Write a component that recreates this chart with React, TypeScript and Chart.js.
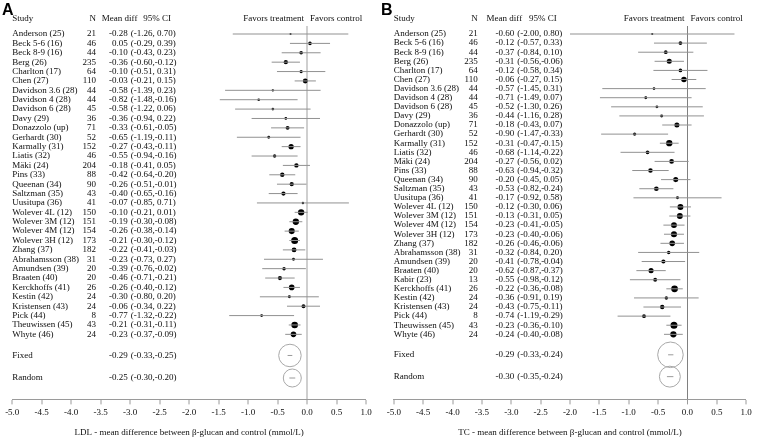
import React, { useEffect, useRef } from "react";
import { Chart, registerables } from "chart.js";
Chart.register(...registerables);

// ---------- Data: Panel A (LDL) ----------
const studiesA = [
  "Anderson (25)", "Beck 5-6 (16)", "Beck 8-9 (16)", "Berg (26)", "Charlton (17)", "Chen (27)",
  "Davidson 3.6 (28)", "Davidson 4 (28)", "Davidson 6 (28)", "Davy (29)", "Donazzolo (up)",
  "Gerhardt (30)", "Karmally (31)", "Liatis (32)", "Mäki (24)", "Pins (33)", "Queenan (34)",
  "Saltzman (35)", "Uusitupa (36)", "Wolever 4L (12)", "Wolever 3M (12)", "Wolever 4M (12)",
  "Wolever 3H (12)", "Zhang (37)", "Abrahamsson (38)", "Amundsen (39)", "Braaten (40)",
  "Kerckhoffs (41)", "Kestin (42)", "Kristensen (43)", "Pick (44)", "Theuwissen (45)", "Whyte (46)",
];
const nA = [21, 46, 44, 235, 64, 110, 44, 44, 45, 36, 71, 52, 152, 46, 204, 88, 90, 43, 41, 150, 151, 154, 173, 182, 31, 20, 20, 26, 24, 24, 8, 43, 24];
const meanA = [-0.28, 0.05, -0.10, -0.36, -0.10, -0.03, -0.58, -0.82, -0.58, -0.36, -0.33, -0.65, -0.27, -0.55, -0.18, -0.42, -0.26, -0.40, -0.07, -0.10, -0.19, -0.26, -0.21, -0.22, -0.23, -0.39, -0.46, -0.26, -0.30, -0.06, -0.77, -0.21, -0.23];
const lowA = [-1.26, -0.29, -0.43, -0.60, -0.51, -0.21, -1.39, -1.48, -1.22, -0.94, -0.61, -1.19, -0.43, -0.94, -0.41, -0.64, -0.51, -0.65, -0.85, -0.21, -0.30, -0.38, -0.30, -0.41, -0.73, -0.76, -0.71, -0.40, -0.80, -0.34, -1.32, -0.31, -0.37];
const highA = [0.70, 0.39, 0.23, -0.12, 0.31, 0.15, 0.23, -0.16, 0.06, 0.22, -0.05, -0.11, -0.11, -0.16, 0.05, -0.20, -0.01, -0.16, 0.71, 0.01, -0.08, -0.14, -0.12, -0.03, 0.27, -0.02, -0.21, -0.12, 0.20, 0.22, -0.22, -0.11, -0.09];
const summaryLabels = ["Fixed", "Random"];
const sumMeanA = [-0.29, -0.25];
const sumLowA = [-0.33, -0.30];
const sumHighA = [-0.25, -0.20];

// ---------- Data: Panel B (TC) ----------
const studiesB = [
  "Anderson (25)", "Beck 5-6 (16)", "Beck 8-9 (16)", "Berg (26)", "Charlton (17)", "Chen (27)",
  "Davidson 3.6 (28)", "Davidson 4 (28)", "Davidson 6 (28)", "Davy (29)", "Donazzolo (up)",
  "Gerhardt (30)", "Karmally (31)", "Liatis (32)", "Mäki (24)", "Pins (33)", "Queenan (34)",
  "Saltzman (35)", "Uusitupa (36)", "Wolever 4L (12)", "Wolever 3M (12)", "Wolever 4M (12)",
  "Wolever 3H (12)", "Zhang (37)", "Abrahamsson (38)", "Amundsen (39)", "Braaten (40)",
  "Kabir (23)", "Kerckhoffs (41)", "Kestin (42)", "Kristensen (43)", "Pick (44)", "Theuwissen (45)", "Whyte (46)",
];
const nB = [21, 46, 44, 235, 64, 110, 44, 44, 45, 36, 71, 52, 152, 46, 204, 88, 90, 43, 41, 150, 151, 154, 173, 182, 31, 20, 20, 13, 26, 24, 24, 8, 43, 24];
const meanB = [-0.60, -0.12, -0.37, -0.31, -0.12, -0.06, -0.57, -0.71, -0.52, -0.44, -0.18, -0.90, -0.31, -0.68, -0.27, -0.63, -0.20, -0.53, -0.17, -0.12, -0.13, -0.23, -0.23, -0.26, -0.32, -0.41, -0.62, -0.55, -0.22, -0.36, -0.43, -0.74, -0.23, -0.24];
const lowB = [-2.00, -0.57, -0.84, -0.56, -0.58, -0.27, -1.45, -1.49, -1.30, -1.16, -0.43, -1.47, -0.47, -1.14, -0.56, -0.94, -0.45, -0.82, -0.92, -0.30, -0.31, -0.41, -0.40, -0.46, -0.84, -0.78, -0.87, -0.98, -0.36, -0.91, -0.75, -1.19, -0.36, -0.40];
const highB = [0.80, 0.33, 0.10, -0.06, 0.34, 0.15, 0.31, 0.07, 0.26, 0.28, 0.07, -0.33, -0.15, -0.22, 0.02, -0.32, 0.05, -0.24, 0.58, 0.06, 0.05, -0.05, -0.06, -0.06, 0.20, -0.04, -0.37, -0.12, -0.08, 0.19, -0.11, -0.29, -0.10, -0.08];
const sumMeanB = [-0.29, -0.30];
const sumLowB = [-0.33, -0.35];
const sumHighB = [-0.24, -0.24];

// ---------- Axis ----------
const xTickValues = [-5.0, -4.5, -4.0, -3.5, -3.0, -2.5, -2.0, -1.5, -1.0, -0.5, 0.0, 0.5, 1.0];
const titleA = "LDL - mean difference between β-glucan and control (mmol/L)";
const titleB = "TC - mean difference between β-glucan and control (mmol/L)";
const headerLabels = ["Study", "N", "Mean diff", "95% CI"];
const favorLabels = ["Favors treatment", "Favors control"];

const SERIF = "'Liberation Serif', 'Times New Roman', serif";
const SANS = "'Liberation Sans', Arial, sans-serif";
const TEXT = "#0d0d0d";

const fmt = (v: number) => v.toFixed(2);
const fmtCI = (lo: number, hi: number) => `(${fmt(lo)},${hi < 0 ? "" : " "}${fmt(hi)})`;

type Panel = {
  letter: string;
  studies: string[];
  n: number[];
  mean: number[];
  lo: number[];
  hi: number[];
  sMean: number[];
  sLo: number[];
  sHi: number[];
  title: string;
  zeroColor: string;
  zeroWidth: number;
  ymin: number;
  ymax: number;
  headerRow: number;
  padLeft: number;
  padRight: number;
  colN: number;
  colMean: number;
  colCI: number;
  colMeanHead: number;
  colCIHead: number;
  rMax: number;
  sumScale: number;
  letterX: number;
};

const FIXED_GAP = 2.25;
const RANDOM_GAP = 4.65;

function buildChart(canvas: HTMLCanvasElement, p: Panel) {
  const rows = p.studies.length;
  const sumRows = [rows - 1 + FIXED_GAP, rows - 1 + RANDOM_GAP];
  const widths = p.lo.map((l, i) => p.hi[i] - l);
  const minW = Math.min(...widths);

  const ciData: any[] = [];
  p.studies.forEach((_, i) => {
    ciData.push({ x: p.lo[i], y: i }, { x: p.hi[i], y: i }, { x: p.hi[i], y: null });
  });
  const ptData = p.mean.map((m, i) => ({ x: m, y: i }));
  const sumCi: any[] = [];
  sumRows.forEach((r, i) => {
    sumCi.push({ x: p.sLo[i], y: r }, { x: p.sHi[i], y: r }, { x: p.sHi[i], y: null });
  });
  const sumPt = p.sMean.map((m, i) => ({ x: m, y: sumRows[i] }));

  const textPlugin = {
    id: "forestText" + p.letter,
    afterDraw(chart: any) {
      const { ctx, scales } = chart;
      const x = scales.x;
      const y = scales.y;
      ctx.save();
      ctx.fillStyle = TEXT;
      ctx.textBaseline = "middle";
      ctx.font = `9px ${SERIF}`;
      const hy = y.getPixelForValue(p.headerRow);
      ctx.textAlign = "left";
      ctx.fillText(headerLabels[0], x.getPixelForValue(-5), hy);
      ctx.textAlign = "right";
      ctx.fillText(headerLabels[1], x.getPixelForValue(p.colN), hy);
      ctx.textAlign = "left";
      ctx.fillText(headerLabels[2], x.getPixelForValue(p.colMeanHead), hy);
      ctx.fillText(headerLabels[3], x.getPixelForValue(p.colCIHead), hy);
      const zx = x.getPixelForValue(0);
      ctx.textAlign = "right";
      ctx.fillText(favorLabels[0], zx - 3, hy);
      ctx.textAlign = "left";
      ctx.fillText(favorLabels[1], zx + 3, hy);

      p.studies.forEach((s, i) => {
        const py = y.getPixelForValue(i);
        ctx.textAlign = "left";
        ctx.fillText(s, x.getPixelForValue(-5), py);
        ctx.textAlign = "right";
        ctx.fillText(String(p.n[i]), x.getPixelForValue(p.colN), py);
        ctx.fillText(fmt(p.mean[i]), x.getPixelForValue(p.colMean), py);
        ctx.textAlign = "left";
        ctx.fillText(fmtCI(p.lo[i], p.hi[i]), x.getPixelForValue(p.colCI), py);
      });
      summaryLabels.forEach((s, i) => {
        const py = y.getPixelForValue(sumRows[i]);
        ctx.textAlign = "left";
        ctx.fillText(s, x.getPixelForValue(-5), py);
        ctx.textAlign = "right";
        ctx.fillText(fmt(p.sMean[i]), x.getPixelForValue(p.colMean), py);
        ctx.textAlign = "left";
        ctx.fillText(fmtCI(p.sLo[i], p.sHi[i]), x.getPixelForValue(p.colCI), py);
      });

      ctx.font = `bold 16px ${SANS}`;
      ctx.textBaseline = "alphabetic";
      ctx.textAlign = "left";
      ctx.fillStyle = "#000";
      ctx.fillText(p.letter, p.letterX, 15);
      ctx.restore();
    },
  };

  return new Chart(canvas, {
    type: "scatter",
    data: {
      datasets: [
        {
          type: "line",
          data: ciData,
          borderColor: "#919191",
          borderWidth: 1,
          pointRadius: 0,
          fill: false,
          spanGaps: false,
        } as any,
        {
          type: "scatter",
          data: ptData,
          pointRadius: (c: any) => Math.max(0.8, p.rMax * Math.sqrt(minW / widths[c.dataIndex])),
          pointHoverRadius: 0,
          backgroundColor: "#000",
          borderWidth: 0,
        },
        {
          type: "line",
          data: sumCi,
          borderColor: "#9a9a9a",
          borderWidth: 1,
          pointRadius: 0,
          fill: false,
          spanGaps: false,
        } as any,
        {
          type: "scatter",
          data: sumPt,
          pointRadius: (c: any) => p.sumScale / (p.sHi[c.dataIndex] - p.sLo[c.dataIndex]),
          pointHoverRadius: 0,
          backgroundColor: "rgba(0,0,0,0)",
          borderColor: "#a8a8a8",
          borderWidth: 1,
        },
      ],
    },
    options: {
      animation: false,
      responsive: false,
      maintainAspectRatio: false,
      events: [],
      layout: { padding: { left: p.padLeft, right: p.padRight, top: 26, bottom: 0 } },
      plugins: { legend: { display: false }, tooltip: { enabled: false } },
      scales: {
        x: {
          type: "linear",
          min: -5,
          max: 1,
          afterBuildTicks: (s: any) => {
            s.ticks = xTickValues.map((v) => ({ value: v }));
          },
          grid: {
            drawOnChartArea: true,
            drawTicks: true,
            color: (c: any) => (c.tick && c.tick.value === 0 ? p.zeroColor : "rgba(0,0,0,0)"),
            lineWidth: (c: any) => (c.tick && c.tick.value === 0 ? p.zeroWidth : 0),
            tickColor: "#9a9a9a",
            tickWidth: 1,
            tickLength: 5,
          },
          border: { display: true, color: "#9a9a9a", width: 1 },
          ticks: {
            callback: (v: any) => Number(v).toFixed(1),
            font: { family: SERIF, size: 9 },
            color: TEXT,
            padding: 3,
            maxRotation: 0,
            autoSkip: false,
          },
          title: {
            display: true,
            text: p.title,
            font: { family: SERIF, size: 9 },
            color: TEXT,
            padding: { top: 6, bottom: 2 },
          },
        },
        y: {
          type: "linear",
          display: false,
          reverse: true,
          min: p.ymin,
          max: p.ymax,
        },
      },
    },
    plugins: [textPlugin],
  } as any);
}

const panelA: Panel = {
  letter: "A",
  studies: studiesA,
  n: nA,
  mean: meanA,
  lo: lowA,
  hi: highA,
  sMean: sumMeanA,
  sLo: sumLowA,
  sHi: sumHighA,
  title: titleA,
  zeroColor: "#cfcfcf",
  zeroWidth: 2,
  ymin: -0.853,
  ymax: 38.93,
  headerRow: -1.6,
  padLeft: 7,
  padRight: 14,
  colN: -3.58,
  colMean: -3.04,
  colCI: -2.99,
  colMeanHead: -3.48,
  colCIHead: -2.78,
  rMax: 3.5,
  sumScale: 0.9,
  letterX: 2,
};

const panelB: Panel = {
  letter: "B",
  studies: studiesB,
  n: nB,
  mean: meanB,
  lo: lowB,
  hi: highB,
  sMean: sumMeanB,
  sLo: sumLowB,
  sHi: sumHighB,
  title: titleB,
  zeroColor: "#808080",
  zeroWidth: 1,
  ymin: -0.88,
  ymax: 40.15,
  headerRow: -1.65,
  padLeft: 13,
  padRight: 7,
  colN: -3.57,
  colMean: -2.95,
  colCI: -2.9,
  colMeanHead: -3.42,
  colCIHead: -2.7,
  rMax: 3.5,
  sumScale: 1.15,
  letterX: 1,
};

function ForestPanel({ panel, left }: { panel: Panel; left: number }) {
  const ref = useRef<HTMLCanvasElement | null>(null);
  useEffect(() => {
    if (!ref.current) return;
    const chart = buildChart(ref.current, panel);
    return () => chart.destroy();
  }, [panel]);
  return (
    <canvas
      ref={ref}
      width={380}
      height={440}
      style={{ position: "absolute", left, top: 0, width: 380, height: 440 }}
    />
  );
}

export default function App() {
  return (
    <div style={{ position: "fixed", left: 0, top: 0, width: 760, height: 440, background: "#fff" }}>
      <ForestPanel panel={panelA} left={0} />
      <ForestPanel panel={panelB} left={380} />
    </div>
  );
}
